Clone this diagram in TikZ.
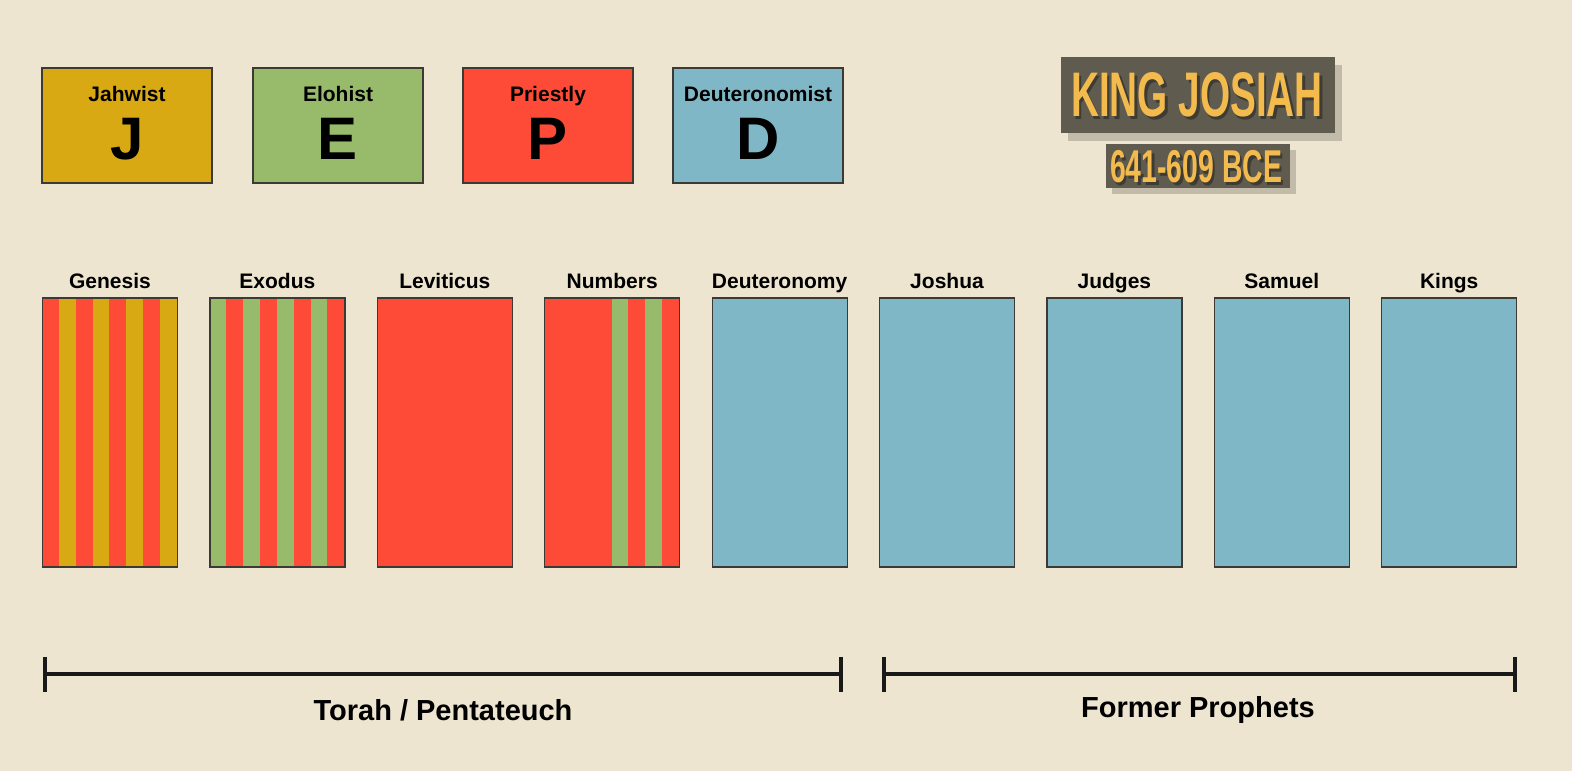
\documentclass[tikz,border=0pt]{standalone}
\usepackage{fontspec}
\setmainfont{Liberation Sans}
\usetikzlibrary{calc}
\definecolor{paper}{HTML}{EEE5D0}
\definecolor{jcol}{HTML}{D9A913}
\definecolor{ecol}{HTML}{97BA6B}
\definecolor{pcol}{HTML}{FD4B38}
\definecolor{dcol}{HTML}{80B7C7}
\definecolor{edge}{HTML}{3C3A34}
\definecolor{plaque}{HTML}{5F5B4F}
\definecolor{gold}{HTML}{F3BB4E}
\tikzset{
  source/.style={draw=edge, line width=1.2pt, minimum width=170pt, minimum height=115pt, inner sep=0pt},
  book/.style={draw=edge, line width=1.2pt, minimum width=135pt, minimum height=269pt, inner sep=0pt},
  booklabel/.style={font=\fontsize{21}{24}\selectfont\bfseries, inner sep=0pt, anchor=base},
  srclabel/.style={font=\fontsize{21}{24}\selectfont\bfseries, inner sep=0pt, anchor=base},
  srcletter/.style={font=\fontsize{60}{66}\selectfont\bfseries, inner sep=0pt, anchor=base},
  span/.style={line width=4.8pt, draw=black!90},
  spanlabel/.style={font=\fontsize{29}{32}\selectfont\bfseries, inner sep=0pt, anchor=base},
  plaquebox/.style={fill=plaque, inner sep=0pt},
  plaqueshadow/.style={fill=plaque, opacity=0.3, inner sep=0pt},
}
% vertical stripes of equal width inside a book
\newcommand{\stripes}[2]{%
  \foreach \c [count=\k from 0] in {#2} {
    \fill[\c] ($(#1.north west)+(16.875*\k,0)$) rectangle ($(#1.south west)+(16.875*\k+16.875,0)$);
  }%
}
\begin{document}
\begin{tikzpicture}[x=1pt,y=-1pt]
\fill[paper] (0,0) rectangle (1572,771);
\useasboundingbox (0,0) rectangle (1572,771);

% --- the four sources ---
\foreach \n/\cx/\col/\srcname/\srcltr in {J/127/jcol/Jahwist/J, E/338/ecol/Elohist/E, P/548/pcol/Priestly/P, D/758/dcol/Deuteronomist/D} {
  \node[source, fill=\col] (src\n) at (\cx,125.5) {};
  \node[srclabel] (srcname\n) at (\cx,101) {\srcname};
  \node[srcletter] (srcletter\n) at (\cx,159.5) {\srcltr};
}

% --- King Josiah plaque ---
\fill[plaqueshadow] (1068,65) rectangle (1342,141);
\node[plaquebox, minimum width=274pt, minimum height=76pt] (king) at (1197.5,95) {};
\node[font=\fontsize{63}{66}\selectfont\bfseries, text=black, opacity=0.35, inner sep=0pt] (kingshadow) at (1199.5,97.5) {\scalebox{0.615}[1]{KING JOSIAH}};
\node[font=\fontsize{63}{66}\selectfont\bfseries, text=gold, inner sep=0pt] (kingtext) at (1197,95) {\scalebox{0.615}[1]{KING JOSIAH}};
\fill[plaqueshadow] (1112,150) rectangle (1296,194);
\node[plaquebox, minimum width=184pt, minimum height=44pt] (reign) at (1198,166) {};
\node[font=\fontsize{46}{50}\selectfont\bfseries, text=black, opacity=0.35, inner sep=0pt] (reignshadow) at (1198.5,169.5) {\scalebox{0.617}[1]{641-609 BCE}};
\node[font=\fontsize{46}{50}\selectfont\bfseries, text=gold, inner sep=0pt] (reigntext) at (1196,167) {\scalebox{0.617}[1]{641-609 BCE}};

% --- the books ---
\foreach \i/\nm/\lab in {0/gen/Genesis, 1/exo/Exodus, 2/lev/Leviticus, 3/num/Numbers, 4/deu/Deuteronomy, 5/jos/Joshua, 6/jdg/Judges, 7/sam/Samuel, 8/kgs/Kings} {
  \coordinate (\nm c) at ({110+167.4*\i},432.5);
  \node[booklabel] (\nm lab) at ({110+167.4*\i},288.5) {\lab};
}
\node[book, draw=none] (gen) at (genc) {};
\stripes{gen}{pcol,jcol,pcol,jcol,pcol,jcol,pcol,jcol}
\node[book] at (genc) {};
\node[book, draw=none] (exo) at (exoc) {};
\stripes{exo}{ecol,pcol,ecol,pcol,ecol,pcol,ecol,pcol}
\node[book] at (exoc) {};
\node[book, fill=pcol] (lev) at (levc) {};
\node[book, draw=none] (num) at (numc) {};
\stripes{num}{pcol,pcol,pcol,pcol,ecol,pcol,ecol,pcol}
\node[book] at (numc) {};
\node[book, fill=dcol] (deu) at (deuc) {};
\node[book, fill=dcol] (jos) at (josc) {};
\node[book, fill=dcol] (jdg) at (jdgc) {};
\node[book, fill=dcol] (sam) at (samc) {};
\node[book, fill=dcol] (kgs) at (kgsc) {};

% --- spans under the books ---
\coordinate (torahL) at (45,674);
\coordinate (torahR) at (841,674);
\coordinate (prophL) at (884,674);
\coordinate (prophR) at (1515,674);
\draw[span] (torahL) -- (torahR);
\draw[span] ($(torahL)+(0,-17.5)$) -- ($(torahL)+(0,17.5)$);
\draw[span] ($(torahR)+(0,-17.5)$) -- ($(torahR)+(0,17.5)$);
\draw[span] (prophL) -- (prophR);
\draw[span] ($(prophL)+(0,-17.5)$) -- ($(prophL)+(0,17.5)$);
\draw[span] ($(prophR)+(0,-17.5)$) -- ($(prophR)+(0,17.5)$);
\node[spanlabel] (torah) at (443,720) {Torah / Pentateuch};
\node[spanlabel] (proph) at (1198,717) {Former Prophets};
\end{tikzpicture}
\end{document}
